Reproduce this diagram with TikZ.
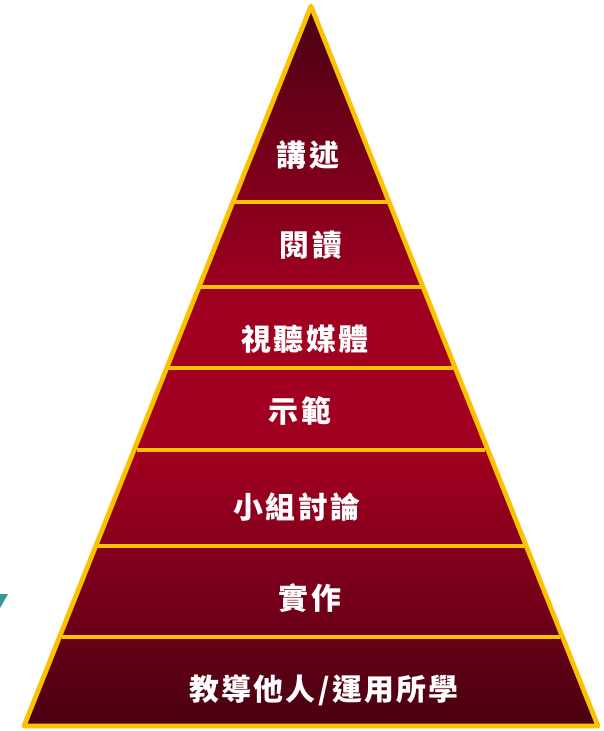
\documentclass[tikz,border=0pt]{standalone}
\usepackage{fontspec}
\newfontfamily\cjk[LetterSpace=8]{Noto Sans CJK TC}
\usetikzlibrary{calc}

\definecolor{pyrgold}{RGB}{250,194,0}
\definecolor{pyrteal}{RGB}{46,155,148}
\definecolor{pyrdarktop}{RGB}{74,0,20}
\definecolor{pyrdarkbot}{RGB}{72,0,16}
\definecolor{pyrmid}{RGB}{162,0,32}
\definecolor{pyrhalf}{RGB}{118,0,26}

\pgfdeclareverticalshading{pyramidshade}{100bp}{%
  color(0bp)=(pyrdarkbot); color(25bp)=(pyrdarkbot); color(34bp)=(pyrhalf);
  color(44bp)=(pyrmid); color(54bp)=(pyrmid); color(65bp)=(pyrhalf);
  color(75bp)=(pyrdarktop); color(100bp)=(pyrdarktop)}

\tikzset{
  level label/.style={text=white, font=\cjk\bfseries\fontsize{17}{20}\selectfont},
  divider/.style={pyrgold, line width=0.075cm, shorten <=0.05cm, shorten >=0.05cm},
}

\begin{document}
\begin{tikzpicture}[x=0.02cm, y=-0.02cm]
  \useasboundingbox (0,0) rectangle (604,731);
  \coordinate (apex) at (311,6);
  \coordinate (bl) at (24,726);
  \coordinate (br) at (598,726);
  \shade[shading=pyramidshade] (apex) -- (bl) -- (br) -- cycle;
  \foreach \y in {202,287,368,450,546,637}
    \draw[divider] ($(apex)!{(\y-6)/720}!(bl)$) -- ($(apex)!{(\y-6)/720}!(br)$);
  \draw[pyrgold, line width=0.095cm, line join=round] (apex) -- (bl) -- (br) -- cycle;
  % levels, top to bottom
  \node[level label] (talk) at (308,155) {講述};
  \node[level label] (read) at (311,245) {閱讀};
  \node[level label] (media) at (305,339) {視聽媒體};
  \node[level label] (demo) at (300,411) {示範};
  \node[level label] (group) at (297,507) {小組討論};
  \node[level label] (practice) at (310,598) {實作};
  \node[level label] (teach) at (324,690) {教導他人/運用所學};
  \fill[pyrteal] (0,594) -- (8,594) -- (0,608) -- cycle;
\end{tikzpicture}
\end{document}
